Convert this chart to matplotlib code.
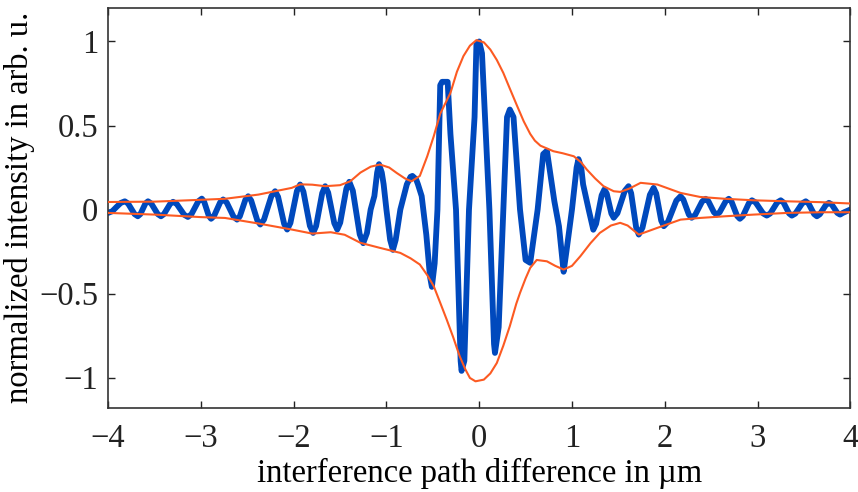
import numpy as np
import matplotlib.pyplot as plt

plt.rcParams['font.family'] = ['Liberation Serif', 'DejaVu Serif']

# measured interferogram, (path difference in um, normalized intensity)
left_wing = [
    (-4.000, -0.020), (-3.955, -0.010), (-3.910, 0.015), (-3.865, 0.039),
    (-3.820, 0.049), (-3.785, 0.036), (-3.750, 0.004), (-3.715, -0.027),
    (-3.680, -0.040), (-3.652, -0.027), (-3.625, 0.004), (-3.598, 0.036),
    (-3.570, 0.049), (-3.535, 0.036), (-3.500, 0.004), (-3.465, -0.027),
    (-3.430, -0.040), (-3.398, -0.027), (-3.365, 0.003), (-3.332, 0.033),
    (-3.300, 0.046), (-3.260, 0.033), (-3.220, 0.001), (-3.180, -0.031),
    (-3.140, -0.044), (-3.102, -0.028), (-3.065, 0.010), (-3.028, 0.049),
    (-2.990, 0.065), (-2.965, 0.047), (-2.940, 0.005), (-2.915, -0.037),
    (-2.890, -0.055), (-2.858, -0.038), (-2.825, 0.003), (-2.792, 0.043),
    (-2.760, 0.060), (-2.722, 0.042), (-2.685, 0.000), (-2.648, -0.042),
    (-2.610, -0.060), (-2.580, -0.040), (-2.550, 0.010), (-2.520, 0.059),
    (-2.490, 0.079), (-2.458, 0.054), (-2.425, -0.005), (-2.392, -0.064),
    (-2.360, -0.089), (-2.320, -0.060), (-2.280, 0.010), (-2.240, 0.080),
    (-2.200, 0.109), (-2.168, 0.076), (-2.135, -0.005), (-2.102, -0.086),
    (-2.070, -0.119), (-2.035, -0.080), (-2.000, 0.015), (-1.965, 0.110),
    (-1.930, 0.149), (-1.895, 0.107), (-1.860, 0.005), (-1.825, -0.097),
    (-1.790, -0.139), (-1.758, -0.098), (-1.725, 0.000), (-1.692, 0.098),
    (-1.660, 0.139), (-1.628, 0.101), (-1.595, 0.010), (-1.562, -0.081),
    (-1.530, -0.119), (-1.498, -0.078), (-1.465, 0.023), (-1.432, 0.124),
    (-1.400, 0.165), (-1.362, 0.112), (-1.325, -0.018), (-1.288, -0.147),
]
center = [
    (-1.250, -0.200), (-1.210, -0.140), (-1.170, 0.000), (-1.130, 0.080),
    (-1.100, 0.220), (-1.080, 0.270), (-1.050, 0.220), (-1.030, 0.150),
    (-1.000, 0.000), (-0.960, -0.180), (-0.930, -0.240), (-0.900, -0.180),
    (-0.850, 0.000), (-0.780, 0.150), (-0.740, 0.195), (-0.720, 0.200),
    (-0.680, 0.180), (-0.660, 0.150), (-0.620, 0.080), (-0.570, -0.150),
    (-0.530, -0.400), (-0.510, -0.460), (-0.480, -0.320), (-0.450, 0.000),
    (-0.420, 0.740), (-0.400, 0.760), (-0.340, 0.760), (-0.310, 0.450),
    (-0.250, 0.000), (-0.200, -0.900), (-0.190, -0.960), (-0.160, -0.900),
    (-0.110, 0.000), (-0.050, 0.550), (-0.030, 0.980), (0.000, 1.000),
    (0.030, 0.930), (0.110, 0.000), (0.160, -0.800), (0.170, -0.853),
    (0.210, -0.700), (0.260, 0.000), (0.300, 0.550), (0.330, 0.595),
    (0.370, 0.550), (0.440, 0.000), (0.500, -0.300), (0.550, -0.317),
    (0.630, 0.000), (0.690, 0.330), (0.730, 0.350), (0.770, 0.200),
    (0.810, 0.050), (0.860, -0.100), (0.910, -0.370), (0.940, -0.250),
    (1.000, 0.000), (1.050, 0.250), (1.070, 0.300), (1.100, 0.250),
    (1.120, 0.150), (1.180, 0.000),
]
right_wing = [
    (1.230, -0.120), (1.260, -0.085), (1.290, 0.000), (1.320, 0.085),
    (1.350, 0.120), (1.375, 0.095), (1.400, 0.036), (1.425, -0.024),
    (1.450, -0.049), (1.490, -0.022), (1.530, 0.045), (1.570, 0.112),
    (1.610, 0.139), (1.638, 0.097), (1.665, -0.005), (1.692, -0.107),
    (1.720, -0.149), (1.760, -0.108), (1.800, -0.010), (1.840, 0.088),
    (1.880, 0.129), (1.908, 0.096), (1.935, 0.015), (1.962, -0.066),
    (1.990, -0.099), (2.035, -0.073), (2.080, -0.010), (2.125, 0.053),
    (2.170, 0.079), (2.200, 0.060), (2.230, 0.015), (2.260, -0.030),
    (2.290, -0.049), (2.328, -0.032), (2.365, 0.008), (2.402, 0.047),
    (2.440, 0.064), (2.470, 0.050), (2.500, 0.017), (2.530, -0.016),
    (2.560, -0.030), (2.592, -0.016), (2.625, 0.017), (2.658, 0.050),
    (2.690, 0.064), (2.720, 0.047), (2.750, 0.005), (2.780, -0.038),
    (2.810, -0.055), (2.842, -0.039), (2.875, 0.000), (2.908, 0.039),
    (2.940, 0.055), (2.980, 0.042), (3.020, 0.010), (3.060, -0.023),
    (3.100, -0.036), (3.138, -0.023), (3.175, 0.010), (3.212, 0.042),
    (3.250, 0.055), (3.280, 0.042), (3.310, 0.010), (3.340, -0.023),
    (3.370, -0.036), (3.408, -0.024), (3.445, 0.007), (3.482, 0.037),
    (3.520, 0.049), (3.550, 0.036), (3.580, 0.005), (3.610, -0.027),
    (3.640, -0.040), (3.672, -0.028), (3.705, 0.000), (3.738, 0.028),
    (3.770, 0.040), (3.800, 0.030), (3.830, 0.005), (3.860, -0.020),
    (3.890, -0.030), (3.920, -0.020), (3.960, -0.010), (4.000, 0.000),
]

# upper and lower envelope
upper_x = [-4.00, -3.50, -3.00, -2.74, -2.38, -2.02, -1.93, -1.80, -1.66, -1.50,
           -1.39, -1.28, -1.17, -1.07, -0.97, -0.89, -0.80, -0.73, -0.64, -0.56,
           -0.49, -0.42, -0.31, -0.24, -0.17, -0.10, -0.03, 0.05, 0.12, 0.19,
           0.26, 0.33, 0.41, 0.48, 0.55, 0.60, 0.66, 0.80, 0.90, 1.02, 1.10, 1.16,
           1.25, 1.34, 1.45, 1.52, 1.62, 1.74, 1.92, 2.17, 2.38, 2.65, 2.96,
           3.32, 3.68, 4.00]
upper_y = [0.045, 0.047, 0.058, 0.064, 0.089, 0.129, 0.150, 0.148, 0.139, 0.145,
           0.168, 0.220, 0.255, 0.268, 0.250, 0.218, 0.185, 0.168, 0.200, 0.317,
           0.436, 0.570, 0.694, 0.820, 0.913, 0.975, 1.008, 0.995, 0.952, 0.890,
           0.813, 0.720, 0.615, 0.525, 0.450, 0.410, 0.380, 0.347, 0.335, 0.317, 0.280,
           0.238, 0.185, 0.139, 0.109, 0.105, 0.125, 0.159, 0.149, 0.099, 0.075,
           0.064, 0.055, 0.049, 0.044, 0.036]
lower_x = [-4.00, -3.50, -3.00, -2.74, -2.38, -2.02, -1.80, -1.60, -1.45, -1.28,
           -1.07, -0.85, -0.74, -0.64, -0.56, -0.49, -0.42, -0.35, -0.28, -0.21,
           -0.15, -0.10, -0.04, 0.05, 0.12, 0.19, 0.26, 0.33, 0.40, 0.44, 0.50,
           0.55, 0.62, 0.73, 0.82, 0.91, 1.00, 1.09, 1.20, 1.30, 1.42, 1.52, 1.60,
           1.72, 1.92, 2.17, 2.38, 2.65, 2.96, 3.32, 3.68, 4.00]
lower_y = [-0.020, -0.030, -0.045, -0.050, -0.083, -0.119, -0.143, -0.135, -0.150, -0.198,
           -0.228, -0.258, -0.290, -0.327, -0.390, -0.456, -0.555, -0.655, -0.760, -0.873,
           -0.950, -1.002, -1.022, -1.012, -0.975, -0.913, -0.810, -0.694, -0.560, -0.496,
           -0.410, -0.347, -0.300, -0.308, -0.335, -0.357, -0.335, -0.278, -0.200, -0.139,
           -0.095, -0.079, -0.095, -0.149, -0.109, -0.060, -0.050, -0.040, -0.030, -0.020,
           -0.016, -0.016]

x_ticks = [-4, -3, -2, -1, 0, 1, 2, 3, 4]
x_labels = ['\u22124', '\u22123', '\u22122', '\u22121', '0', '1', '2', '3', '4']
y_ticks = [-1, -0.5, 0, 0.5, 1]
y_labels = ['\u22121', '\u22120.5', '0', '0.5', '1']

sig = np.array(left_wing + center + right_wing)

fig = plt.figure(figsize=(8.58, 4.92), dpi=100)
ax = fig.add_axes([0.126, 0.171, 0.865, 0.813])

ax.plot(sig[:, 0], sig[:, 1], color='#0049bd', lw=4.2,
        solid_joinstyle='round', solid_capstyle='round', zorder=2)
ax.plot(upper_x, upper_y, color='#fc5a22', lw=1.5, zorder=3)
ax.plot(lower_x, lower_y, color='#fc5a22', lw=1.5, zorder=3)

ax.set_xlim(-4, 4)
ax.set_ylim(-1.18, 1.2)
ax.set_xticks(x_ticks)
ax.set_xticklabels(x_labels)
ax.set_yticks(y_ticks)
ax.set_yticklabels(y_labels)
ax.tick_params(direction='in', top=True, right=True, length=5, width=1,
               labelsize=23.5, colors='#222222')
ax.tick_params(axis='x', pad=11)
ax.tick_params(axis='y', pad=7)
for sp in ax.spines.values():
    sp.set_color('#333333')
    sp.set_linewidth(1.2)

ax.set_xlabel('interference path difference in \u00b5m', fontsize=23.5, labelpad=3)
ax.set_ylabel('normalized intensity in arb. u.', fontsize=23.5, labelpad=3)

fig.savefig('out.png', dpi=100)
